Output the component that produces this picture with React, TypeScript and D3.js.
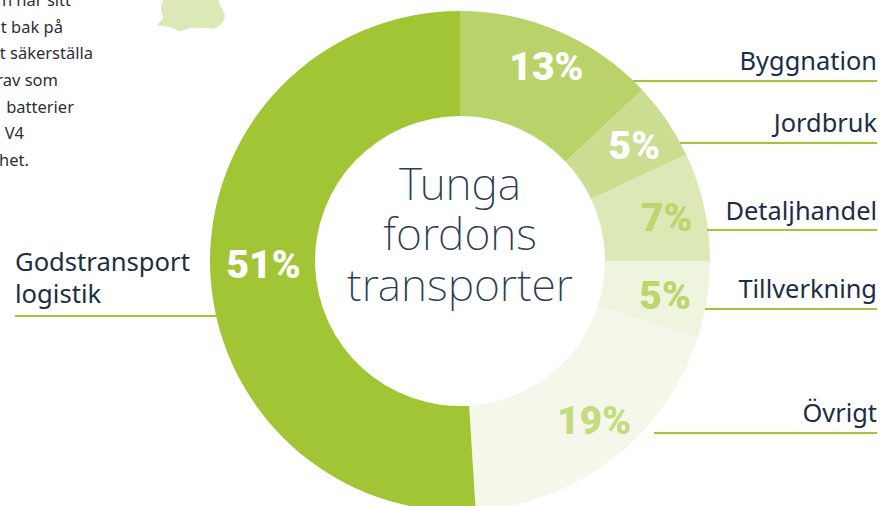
import React from "react";
import * as d3 from "d3";

const categories = ["Byggnation", "Jordbruk", "Detaljhandel", "Tillverkning", "Övrigt", "Godstransport logistik"];
const values = [13, 5, 7, 5, 19, 51];
const sliceColors = ["#b9d36a", "#cbdd91", "#dde8b7", "#eef4de", "#f5f7ea", "#a1c535"];
const valueColors = ["#ffffff", "#ffffff", "#bcd66c", "#bcd66c", "#c5db7f", "#ffffff"];
const valueOffsets: [number, number][] = [[8, -13], [11, -5], [14, -1], [10, 3], [13, 3], [1, -3]];
const rightLabelY = [61, 123, 211, 289, 413];
const rightLineY = [81, 143, 230, 309, 433];
const rightLineX0 = [633, 680, 707, 705, 654];
const titleLines = ["Tunga", "fordons", "transporter"];
const titleY = [200, 250, 301];
const bodyLines: [string, number, number][] = [
  ["n när sitt", 71, 6],
  ["t bak på", 63, 33],
  ["t säkerställa", 93, 59],
  ["rav som", 58, 86],
  ["batterier", 74, 113],
  ["V4", 24, 139],
  ["het.", 29, 166],
];
const islandOutline: [number, number][] = [
  [164, 0], [161, 10], [163, 18], [158, 25], [170, 27], [180, 31], [190, 28], [205, 28], [216, 28], [225, 17], [220, 5], [218, 0],
];

const W = 882, H = 506, CX = 460, CY = 261, RO = 250, RI = 145;
const sans = "'Noto Sans', 'Open Sans', sans-serif";
const ink = "#1c2e45";
const lineGreen = "#a1c535";

export default function App() {
  const pie = d3.pie<number>().sort(null)(values);
  const arc = d3.arc<d3.PieArcDatum<number>>().innerRadius(RI).outerRadius(RO);
  const island = d3.line().curve(d3.curveCatmullRomClosed)(islandOutline) || "";
  return (
    <svg width={W} height={H} viewBox={`0 0 ${W} ${H}`} style={{ position: "fixed", left: 0, top: 0, background: "#fff" }}>
      <path d={island} fill="#dde8b7" />
      {bodyLines.map(([t, x, y]) => (
        <text key={t} x={x} y={y} textAnchor="end" fontFamily={sans} fontSize={16.5} fill="#2b2f36">{t}</text>
      ))}
      <g transform={`translate(${CX},${CY})`}>
        {pie.map((d, i) => <path key={i} d={arc(d) || ""} fill={sliceColors[i]} />)}
      </g>
      {pie.map((d, i) => {
        const [x, y] = arc.centroid(d);
        return (
          <text key={i} x={CX + x + valueOffsets[i][0]} y={CY + y + valueOffsets[i][1]} dy="0.35em" textAnchor="middle"
            fontFamily="Roboto, sans-serif" fontWeight={900} fontSize={39} fill={valueColors[i]}>
            {values[i]}%
          </text>
        );
      })}
      {titleLines.map((t, i) => (
        <text key={t} x={460} y={titleY[i]} textAnchor="middle" fontFamily={sans} fontWeight={200} fontSize={44.6} fill="#2a3d55">{t}</text>
      ))}
      {categories.slice(0, 5).map((c, i) => (
        <g key={c}>
          <text x={877} y={rightLabelY[i]} dy="0.35em" textAnchor="end" fontFamily={sans} fontSize={25.4} fill={ink}>{c}</text>
          <line x1={rightLineX0[i]} x2={877} y1={rightLineY[i]} y2={rightLineY[i]} stroke={lineGreen} strokeWidth={2} />
        </g>
      ))}
      <text x={15} y={271} fontFamily={sans} fontSize={25.6} fill={ink}>Godstransport</text>
      <text x={15} y={303} fontFamily={sans} fontSize={25.6} fill={ink}>logistik</text>
      <line x1={15} x2={217} y1={316} y2={316} stroke={lineGreen} strokeWidth={2} />
    </svg>
  );
}
